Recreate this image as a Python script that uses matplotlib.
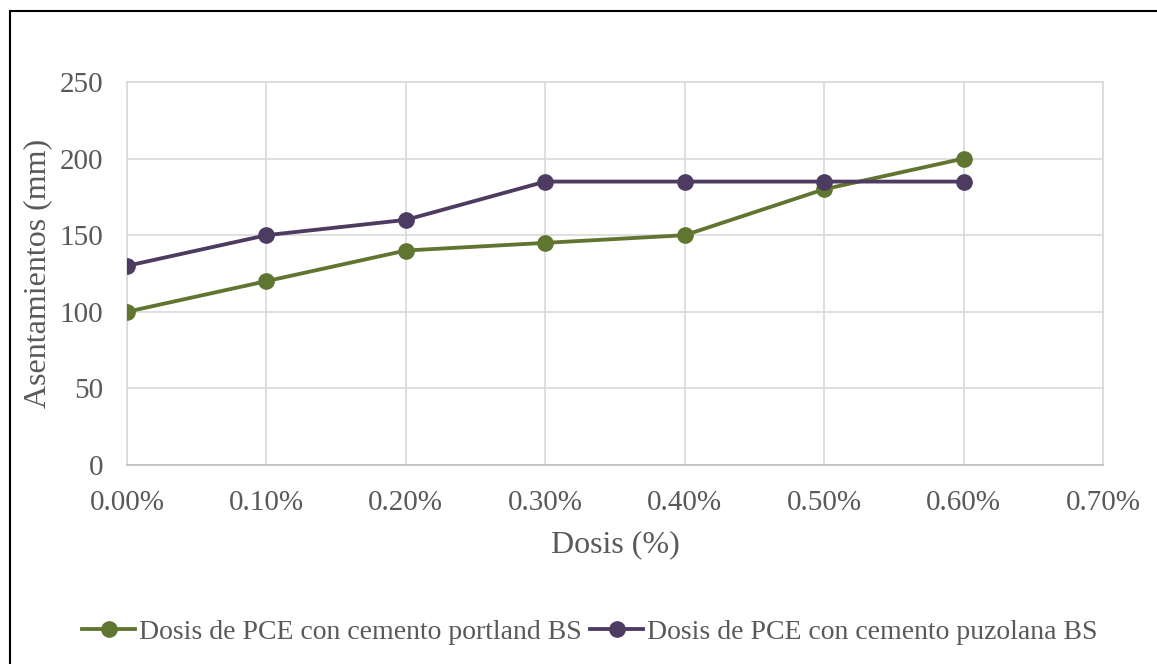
import matplotlib
matplotlib.use('Agg')
import matplotlib.pyplot as plt
from matplotlib.patches import Rectangle
from matplotlib.ticker import FuncFormatter

dosis = [0.0, 0.001, 0.002, 0.003, 0.004, 0.005, 0.006]
portland = [100, 120, 140, 145, 150, 180, 200]
puzolana = [130, 150, 160, 185, 185, 185, 185]
lab_portland = 'Dosis de PCE con cemento portland BS'
lab_puzolana = 'Dosis de PCE con cemento puzolana BS'

GREEN = '#5f7530'
PURPLE = '#4e3b62'
TXT = '#595959'
GRID = '#d9d9d9'

plt.rcParams['font.family'] = ['Liberation Serif', 'DejaVu Serif']

fig = plt.figure(figsize=(11.57, 6.64), dpi=100)
ax = fig.add_axes([127 / 1157, 1 - 465 / 664, (1103 - 127) / 1157, (465 - 82) / 664])

ax.plot(dosis, portland, '-o', color=GREEN, lw=2.75, ms=11, label=lab_portland, zorder=3)
ax.plot(dosis, puzolana, '-o', color=PURPLE, lw=2.75, ms=11, label=lab_puzolana, zorder=3)

ax.set_xlim(0, 0.007)
ax.set_ylim(0, 250)
ax.set_xticks([i * 0.001 for i in range(8)])
ax.set_yticks(range(0, 251, 50))
ax.xaxis.set_major_formatter(FuncFormatter(lambda v, p: f'{v * 100:.2f}%'))
ax.grid(True, color=GRID, lw=1.2, zorder=0)
ax.set_axisbelow(True)
for s in ['top', 'right', 'left']:
    ax.spines[s].set_color(GRID)
    ax.spines[s].set_linewidth(1.2)
ax.spines['bottom'].set_color('#bfbfbf')
ax.spines['bottom'].set_linewidth(1.2)
ax.tick_params(axis='both', colors=TXT, labelsize=21, length=0)
ax.tick_params(axis='y', pad=17)
ax.tick_params(axis='x', pad=18)
ax.set_xlabel('Dosis (%)', color=TXT, fontsize=23, labelpad=10)
ax.set_ylabel('Asentamientos (mm)', color=TXT, fontsize=23)
ax.yaxis.set_label_coords(-75 / 976, 0.5)

leg = fig.legend(loc='center', bbox_to_anchor=(590 / 1157, 1 - 632 / 664), ncol=2,
                 frameon=False, fontsize=20, handlelength=1.9, handletextpad=0.15,
                 columnspacing=0.3, labelcolor=TXT)

fig.patches.append(Rectangle((10 / 1157, -0.05), 1.2, 1 - 11 / 664 + 0.05,
                             transform=fig.transFigure, fill=False,
                             edgecolor='black', lw=1.5))

fig.savefig('out.png', dpi=100)
